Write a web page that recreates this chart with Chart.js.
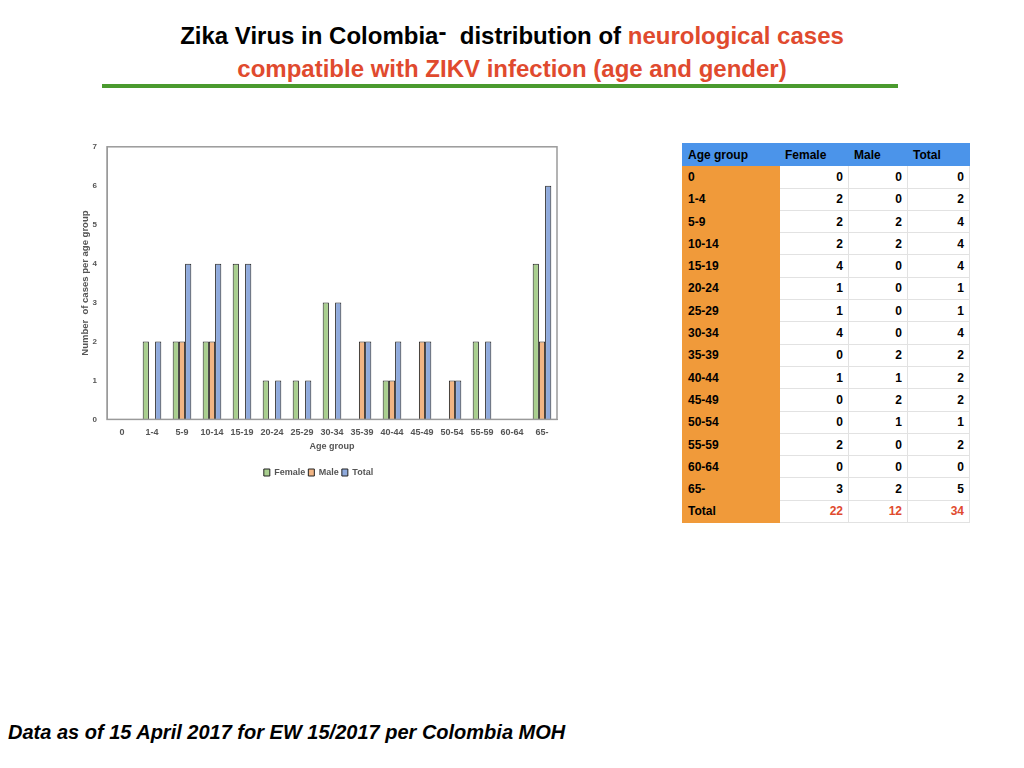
<!DOCTYPE html>
<html>
<head>
<meta charset="utf-8">
<script src="https://cdn.jsdelivr.net/npm/chart.js@4"></script>
<style>
  body { margin: 0; width: 1024px; height: 768px; background: #fff; position: relative; font-family: "Liberation Sans", Arial, sans-serif; overflow: hidden; }
  .title { position: absolute; left: 0; width: 1024px; text-align: center; font-weight: bold; font-size: 24px; color: #000; }
  .red { color: #e04a2e; }
  .dash { position: relative; top: -4px; }
  #rule { position: absolute; left: 102px; top: 84px; width: 796px; height: 4px; background: #4a9a2e; }
  #chartBox { position: absolute; left: 75px; top: 132px; width: 490px; height: 355px; }
  #tbl { position: absolute; left: 682px; top: 143px; border-collapse: collapse; font-size: 12px; font-weight: bold; }
  #tbl td, #tbl th { height: 21.3px; padding: 0 5px; border: 1px solid #e2e2e2; }
  #tbl th { background: #4b94ea; text-align: left; border-color: #4b94ea; }
  #tbl td.ag { background: #f09a3a; border-color: #f09a3a; text-align: left; }
  #tbl td.num { text-align: right; }
  #tbl td.red { color: #e04a2e; }
  #foot { position: absolute; left: 8px; top: 721px; font-size: 20px; font-weight: bold; font-style: italic; }
</style>
</head>
<body>
<div class="title" style="top:22px">Zika Virus in Colombia<span class="dash">-</span>&nbsp; distribution of <span class="red">neurological cases</span></div>
<div class="title red" style="top:55px">compatible with ZIKV infection (age and gender)</div>
<div id="rule"></div>
<div id="chartBox"><canvas id="chart"></canvas></div>
<table id="tbl"></table>
<div id="foot">Data as of 15 April 2017 for EW 15/2017 per Colombia MOH</div>
<script>
const ageGroups = ['0', '1-4', '5-9', '10-14', '15-19', '20-24', '25-29', '30-34', '35-39', '40-44', '45-49', '50-54', '55-59', '60-64', '65-'];

// values as drawn in the bar chart
const chartFemale = [0, 2, 2, 2, 4, 1, 1, 3, 0, 1, 0, 0, 2, 0, 4];
const chartMale   = [0, 0, 2, 2, 0, 0, 0, 0, 2, 1, 2, 1, 0, 0, 2];
const chartTotal  = [0, 2, 4, 4, 4, 1, 1, 3, 2, 2, 2, 1, 2, 0, 6];

// values as listed in the table
const tableFemale = [0, 2, 2, 2, 4, 1, 1, 4, 0, 1, 0, 0, 2, 0, 3];
const tableMale   = [0, 0, 2, 2, 0, 0, 0, 0, 2, 1, 2, 1, 0, 0, 2];
const tableTotal  = [0, 2, 4, 4, 4, 1, 1, 4, 2, 2, 2, 1, 2, 0, 5];
const sumRow = [22, 12, 34];

// build the table
const tbl = document.getElementById('tbl');
let html = '<tr><th style="width:86px">Age group</th><th style="width:58px">Female</th><th style="width:48px">Male</th><th style="width:51px">Total</th></tr>';
ageGroups.forEach((g, i) => {
  html += `<tr><td class="ag">${g}</td><td class="num">${tableFemale[i]}</td><td class="num">${tableMale[i]}</td><td class="num">${tableTotal[i]}</td></tr>`;
});
html += `<tr><td class="ag">Total</td><td class="num red">${sumRow[0]}</td><td class="num red">${sumRow[1]}</td><td class="num red">${sumRow[2]}</td></tr>`;
tbl.innerHTML = html;

// frame around the plot area
const frame = {
  id: 'frame',
  afterDraw(chart) {
    const a = chart.chartArea, c = chart.ctx;
    c.save();
    c.strokeStyle = '#9a9a9a';
    c.lineWidth = 1.5;
    c.strokeRect(a.left, a.top, a.right - a.left, a.bottom - a.top);
    c.restore();
  }
};

const ctx = document.getElementById('chart').getContext('2d');
new Chart(ctx, {
  type: 'bar',
  data: {
    labels: ageGroups,
    datasets: [
      { label: 'Female', data: chartFemale, backgroundColor: '#a9cf8f', borderColor: '#222', borderWidth: 1 },
      { label: 'Male', data: chartMale, backgroundColor: '#f2b584', borderColor: '#222', borderWidth: 1 },
      { label: 'Total', data: chartTotal, backgroundColor: '#8faadc', borderColor: '#222', borderWidth: 1 }
    ]
  },
  options: {
    responsive: true,
    maintainAspectRatio: false,
    animation: false,
    categoryPercentage: 0.62,
    barPercentage: 1.0,
    layout: { padding: { top: 3, right: 8, left: 5 } },
    plugins: {
      legend: {
        position: 'bottom',
        labels: { boxWidth: 6, boxHeight: 7, padding: 3, color: '#555', font: { size: 9, weight: 'bold' } }
      },
      tooltip: { enabled: false }
    },
    scales: {
      x: {
        grid: { display: false },
        border: { color: '#9a9a9a' },
        ticks: { color: '#555', font: { size: 9, weight: 'bold' }, maxRotation: 0, autoSkip: false, padding: 0 },
        title: { display: true, text: 'Age group', color: '#555', font: { size: 9, weight: 'bold' }, padding: { top: 3, bottom: 13 } }
      },
      y: {
        min: 0, max: 7,
        grid: { display: false, drawTicks: false },
        border: { color: '#9a9a9a' },
        afterFit: s => { s.width = 27; },
        ticks: { stepSize: 1, color: '#555', font: { size: 8, weight: 'bold' }, padding: 10 },
        title: { display: true, text: 'Number  of cases per age group', color: '#555', font: { size: 9.5, weight: 'bold' }, padding: 0 }
      }
    }
  },
  plugins: [frame]
});
</script>
</body>
</html>
